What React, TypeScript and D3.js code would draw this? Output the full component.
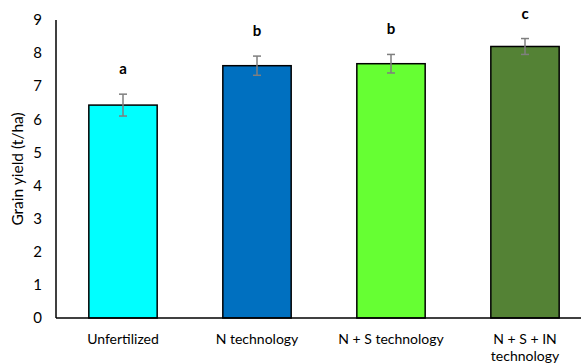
import React, { useEffect, useRef } from "react";
import * as d3 from "d3";

const treatments = ["Unfertilized", "N technology", "N + S technology", "N + S + IN technology"];
const yieldMeans = [6.43, 7.62, 7.68, 8.2];
const yieldErrors = [0.33, 0.29, 0.28, 0.24];
const groupLetters = ["a", "b", "b", "c"];
const barColors = ["#00FFFF", "#0070C0", "#66FF33", "#548235"];
const yTicks = [0, 1, 2, 3, 4, 5, 6, 7, 8, 9];

const W = 581;
const H = 364;
const FONT = "Lato, 'Open Sans', sans-serif";

const App = () => {
  const ref = useRef<SVGSVGElement>(null);

  useEffect(() => {
    const svg = d3.select(ref.current);
    svg.selectAll("*").remove();

    const left = 56, top = 20, bottom = 318;

    const x = d3.scaleBand().domain(treatments).range([left, 592]).paddingInner(0.49).paddingOuter(0.245);
    const y = d3.scaleLinear().domain([0, 9]).range([bottom, top]);

    // y tick labels, no tick marks
    svg.append("g").selectAll("text").data(yTicks).enter().append("text")
      .attr("x", 42).attr("y", d => y(d)).attr("dy", "0.35em")
      .attr("text-anchor", "end")
      .style("font-family", FONT).style("font-size", "15px").attr("fill", "#000")
      .text(d => d);

    const bars = svg.append("g").selectAll("g").data(treatments).enter().append("g");

    bars.append("rect")
      .attr("x", d => x(d)!)
      .attr("y", (d, i) => y(yieldMeans[i]))
      .attr("width", x.bandwidth())
      .attr("height", (d, i) => bottom - y(yieldMeans[i]))
      .attr("fill", (d, i) => barColors[i])
      .attr("stroke", "#000").attr("stroke-width", 1.5);

    // error bars
    bars.each(function (d, i) {
      const g = d3.select(this);
      const cx = x(d)! + x.bandwidth() / 2;
      const hi = y(yieldMeans[i] + yieldErrors[i]);
      const lo = y(yieldMeans[i] - yieldErrors[i]);
      const col = "#7f7f7f";
      g.append("line").attr("x1", cx).attr("x2", cx).attr("y1", hi).attr("y2", lo).attr("stroke", col).attr("stroke-width", 1.5);
      g.append("line").attr("x1", cx - 4).attr("x2", cx + 4).attr("y1", hi).attr("y2", hi).attr("stroke", col).attr("stroke-width", 1.5);
      g.append("line").attr("x1", cx - 4).attr("x2", cx + 4).attr("y1", lo).attr("y2", lo).attr("stroke", col).attr("stroke-width", 1.5);
      g.append("text")
        .attr("x", cx).attr("y", hi - 20)
        .attr("text-anchor", "middle")
        .style("font-family", FONT).style("font-size", "15px").style("font-weight", "bold")
        .text(groupLetters[i]);
    });

    // axis lines
    svg.append("line").attr("x1", left).attr("x2", left).attr("y1", top).attr("y2", bottom).attr("stroke", "#000").attr("stroke-width", 1.5);
    svg.append("line").attr("x1", left).attr("x2", W).attr("y1", bottom).attr("y2", bottom).attr("stroke", "#000").attr("stroke-width", 1.5);

    // category labels
    const labelLines: Record<string, string[]> = {
      "N + S + IN technology": ["N + S + IN", "technology"],
    };
    svg.append("g").selectAll("text").data(treatments).enter().append("text")
      .attr("x", d => x(d)! + x.bandwidth() / 2)
      .attr("y", 344)
      .attr("text-anchor", "middle")
      .style("font-family", FONT).style("font-size", "14px")
      .each(function (d) {
        const lines = labelLines[d] || [d];
        const t = d3.select(this);
        lines.forEach((l, k) => {
          t.append("tspan").attr("x", x(d)! + x.bandwidth() / 2).attr("dy", k === 0 ? 0 : 17).text(l);
        });
      });

    svg.append("text")
      .attr("transform", `translate(23, ${(top + bottom) / 2}) rotate(-90)`)
      .attr("text-anchor", "middle")
      .style("font-family", FONT).style("font-size", "15.5px")
      .text("Grain yield (t/ha)");
  }, []);

  return (
    <svg ref={ref} width={W} height={H} style={{ position: "absolute", left: 0, top: 0, background: "#fff" }}></svg>
  );
};

export default App;
